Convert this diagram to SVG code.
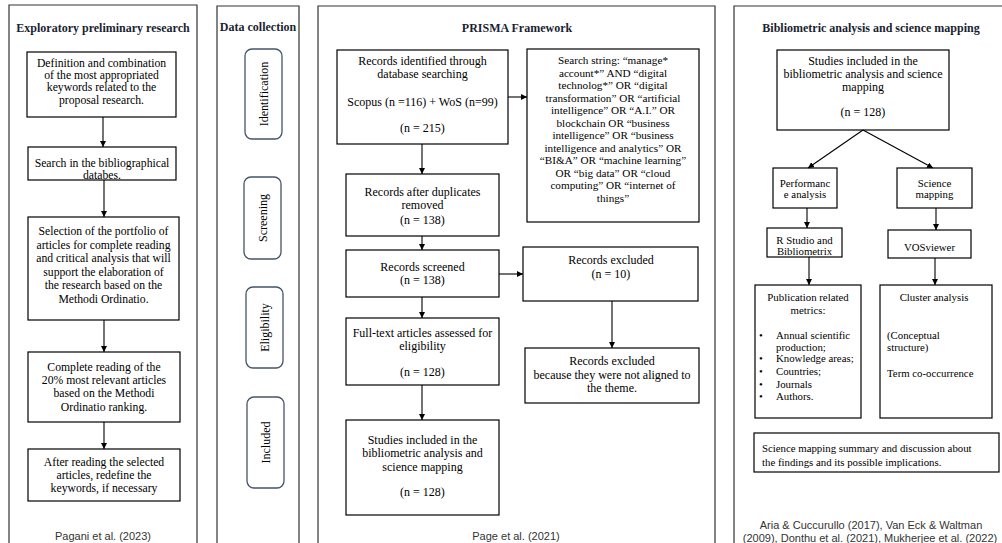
<svg xmlns="http://www.w3.org/2000/svg" width="1002" height="543" viewBox="0 0 1002 543">
<defs>
<marker id="ah" viewBox="0 0 10 10" refX="10" refY="5" markerWidth="6" markerHeight="6" markerUnits="userSpaceOnUse" orient="auto">
<path d="M0,0 L10,5 L0,10 z" fill="#000"/>
</marker>
<style>
.panel{fill:none;stroke:#333;stroke-width:1.2}
.box{fill:#fff;stroke:#000;stroke-width:1.2}
.rbox{fill:#fff;stroke:#44546a;stroke-width:1.3}
text{font-family:"Liberation Serif","Times New Roman",Tinos,"DejaVu Serif",serif;fill:#000}
.t{font-size:11.7px;text-anchor:middle}
.ts{font-size:12px;text-anchor:middle}
.tq{font-size:11.2px;text-anchor:middle}
.tm{font-size:10.8px;text-anchor:middle}
.tl{font-size:10.8px;text-anchor:start}
.h{font-size:12px;font-weight:bold;fill:#1a1f33;text-anchor:middle}
text.c{font-family:"Liberation Sans",Arial,sans-serif;font-size:11px;fill:#333;text-anchor:middle}
.conn line{stroke:#000;stroke-width:1.1;marker-end:url(#ah)}
</style>
</defs>
<rect width="1002" height="543" fill="#fff"/>

<!-- panels -->
<g id="panels">
<path class="panel" d="M9,545 V5 H197 V545"/>
<path class="panel" d="M217,545 V6 H299 V545"/>
<path class="panel" d="M318,545 V6 H715 V545"/>
<path class="panel" d="M734,545 V6 H1005"/>
<text class="h" x="103" y="32">Exploratory preliminary research</text>
<text class="h" x="258" y="31">Data collection</text>
<text class="h" x="517" y="32">PRISMA Framework</text>
<text class="h" x="871" y="32">Bibliometric analysis and science mapping</text>
<text class="c" x="103" y="540">Pagani et al. (2023)</text>
<text class="c" x="516" y="540">Page et al. (2021)</text>
<text class="c" x="871" y="529">Aria &amp; Cuccurullo (2017), Van Eck &amp; Waltman</text>
<text class="c" x="870" y="542">(2009),  Donthu et al. (2021), Mukherjee et al. (2022)</text>
</g>

<!-- panel 1 nodes -->
<g id="p1_define">
<rect class="box" x="27" y="52" width="149" height="65"/>
<text class="t" x="101.5" y="67">Definition and combination</text>
<text class="t" x="101.5" y="79">of the most appropriated</text>
<text class="t" x="101.5" y="91">keywords related to the</text>
<text class="t" x="101.5" y="104">proposal research.</text>
</g>
<g id="p1_search">
<rect class="box" x="28" y="147" width="148" height="33"/>
<text class="t" x="102" y="167">Search in the bibliographical</text>
<text class="t" x="102" y="179">databes.</text>
</g>
<g id="p1_select">
<rect class="box" x="28" y="217" width="151" height="103"/>
<text class="t" x="103.5" y="235">Selection of the portfolio of</text>
<text class="t" x="103.5" y="248.5">articles for complete reading</text>
<text class="t" x="103.5" y="262">and critical analysis that will</text>
<text class="t" x="103.5" y="275.5">support the elaboration of</text>
<text class="t" x="103.5" y="289">the research based on the</text>
<text class="t" x="103.5" y="302.5">Methodi Ordinatio.</text>
</g>
<g id="p1_read">
<rect class="box" x="28" y="352" width="152" height="70"/>
<text class="t" x="104" y="371">Complete reading of the</text>
<text class="t" x="104" y="384">20% most relevant articles</text>
<text class="t" x="104" y="397">based on the Methodi</text>
<text class="t" x="104" y="411">Ordinatio ranking.</text>
</g>
<g id="p1_redefine">
<rect class="box" x="28" y="449" width="152" height="52"/>
<text class="t" x="104" y="466">After reading the selected</text>
<text class="t" x="104" y="479">articles, redefine the</text>
<text class="t" x="104" y="492">keywords, if necessary</text>
</g>

<!-- panel 2 nodes -->
<g id="dc_identification">
<rect class="rbox" x="245" y="49" width="37" height="90" rx="7"/>
<text class="ts" transform="translate(267.5,94) rotate(-90)">Identification</text>
</g>
<g id="dc_screening">
<rect class="rbox" x="244" y="177" width="37" height="82" rx="7"/>
<text class="ts" transform="translate(266.5,218) rotate(-90)">Screening</text>
</g>
<g id="dc_eligibility">
<rect class="rbox" x="246" y="287" width="37" height="81" rx="7"/>
<text class="ts" transform="translate(268.5,327.5) rotate(-90)">Eligibility</text>
</g>
<g id="dc_included">
<rect class="rbox" x="247" y="397" width="37" height="91" rx="7"/>
<text class="ts" transform="translate(269.5,442.5) rotate(-90)">Included</text>
</g>

<!-- panel 3 nodes -->
<g id="pr_identified">
<rect class="box" x="337" y="50" width="171" height="94"/>
<text class="ts" x="422.5" y="65">Records identified through</text>
<text class="ts" x="422.5" y="78">database searching</text>
<text class="ts" x="422.5" y="106">Scopus (n =116) + WoS (n=99)</text>
<text class="ts" x="422.5" y="132">(n = 215)</text>
</g>
<g id="pr_string">
<rect class="box" x="527" y="49" width="172" height="173"/>
<text class="tq" x="613" y="64">Search string: “manage*</text>
<text class="tq" x="613" y="76.5">account*” AND “digital</text>
<text class="tq" x="613" y="89">technolog*” OR “digital</text>
<text class="tq" x="613" y="101.5">transformation” OR “artificial</text>
<text class="tq" x="613" y="114">intelligence” OR “A.I.” OR</text>
<text class="tq" x="613" y="126.5">blockchain OR “business</text>
<text class="tq" x="613" y="139">intelligence” OR “business</text>
<text class="tq" x="613" y="151.5">intelligence and analytics” OR</text>
<text class="tq" x="613" y="164">“BI&amp;A” OR “machine learning”</text>
<text class="tq" x="613" y="176.5">OR “big data” OR “cloud</text>
<text class="tq" x="613" y="189">computing” OR “internet of</text>
<text class="tq" x="613" y="201.5">things”</text>
</g>
<g id="pr_dedup">
<rect class="box" x="346" y="174" width="153" height="62"/>
<text class="ts" x="422.5" y="196">Records after duplicates</text>
<text class="ts" x="422.5" y="209">removed</text>
<text class="ts" x="422.5" y="224">(n = 138)</text>
</g>
<g id="pr_screened">
<rect class="box" x="346" y="250" width="153" height="47"/>
<text class="ts" x="422.5" y="271">Records screened</text>
<text class="ts" x="422.5" y="284">(n = 138)</text>
</g>
<g id="pr_excluded">
<rect class="box" x="523" y="247" width="175" height="54"/>
<text class="ts" x="611" y="264">Records excluded</text>
<text class="ts" x="611" y="278">(n = 10)</text>
</g>
<g id="pr_excluded2">
<rect class="box" x="525" y="348" width="174" height="55"/>
<text class="ts" x="612" y="365">Records excluded</text>
<text class="ts" x="612" y="379">because they were not aligned to</text>
<text class="ts" x="612" y="392">the theme.</text>
</g>
<g id="pr_fulltext">
<rect class="box" x="346" y="318" width="153" height="67"/>
<text class="ts" x="422.5" y="337">Full-text articles assessed for</text>
<text class="ts" x="422.5" y="350">eligibility</text>
<text class="ts" x="422.5" y="376">(n = 128)</text>
</g>
<g id="pr_included">
<rect class="box" x="346" y="420" width="153" height="95"/>
<text class="ts" x="422.5" y="444">Studies included in the</text>
<text class="ts" x="422.5" y="457">bibliometric analysis and</text>
<text class="ts" x="422.5" y="471">science mapping</text>
<text class="ts" x="422.5" y="496">(n = 128)</text>
</g>

<!-- panel 4 nodes -->
<g id="ba_studies">
<rect class="box" x="777" y="50" width="172" height="80"/>
<text class="ts" x="863" y="65">Studies included in the</text>
<text class="ts" x="863" y="78">bibliometric analysis and science</text>
<text class="ts" x="863" y="91">mapping</text>
<text class="ts" x="863" y="116">(n = 128)</text>
</g>
<g id="ba_performance">
<rect class="box" x="773" y="168" width="64" height="40"/>
<text class="tm" x="805" y="187">Performanc</text>
<text class="tm" x="805" y="198">e analysis</text>
</g>
<g id="ba_scimap">
<rect class="box" x="897" y="168" width="75" height="40"/>
<text class="tm" x="934.5" y="187">Science</text>
<text class="tm" x="934.5" y="198">mapping</text>
</g>
<g id="ba_rstudio">
<rect class="box" x="767" y="228" width="75" height="29"/>
<text class="tm" x="804.5" y="244">R Studio and</text>
<text class="tm" x="804.5" y="255">Bibliometrix</text>
</g>
<g id="ba_vos">
<rect class="box" x="888" y="230" width="83" height="28"/>
<text class="tm" x="929.5" y="251">VOSviewer</text>
</g>
<g id="ba_pub">
<rect class="box" x="755" y="285" width="106" height="133"/>
<text class="tm" x="808" y="301">Publication related</text>
<text class="tm" x="808" y="314">metrics:</text>
<text class="tl" x="759" y="339">•</text><text class="tl" x="776" y="339">Annual scientific</text>
<text class="tl" x="776" y="351">production;</text>
<text class="tl" x="759" y="362">•</text><text class="tl" x="776" y="362">Knowledge areas;</text>
<text class="tl" x="759" y="375">•</text><text class="tl" x="776" y="375">Countries;</text>
<text class="tl" x="759" y="388">•</text><text class="tl" x="776" y="388">Journals</text>
<text class="tl" x="759" y="400">•</text><text class="tl" x="776" y="400">Authors.</text>
</g>
<g id="ba_cluster">
<rect class="box" x="880" y="285" width="112" height="133"/>
<text class="tm" x="934" y="301">Cluster analysis</text>
<text class="tl" x="887" y="339">(Conceptual</text>
<text class="tl" x="887" y="351">structure)</text>
<text class="tl" x="887" y="377">Term co-occurrence</text>
</g>
<g id="ba_summary">
<rect class="box" x="754" y="433" width="245" height="39"/>
<text class="tl" x="762" y="452">Science mapping summary and discussion about</text>
<text class="tl" x="762" y="466">the findings and its possible implications.</text>
</g>

<!-- connectors -->
<g id="connectors" class="conn">
<line x1="103" y1="117" x2="103" y2="147"/>
<line x1="104" y1="180" x2="104" y2="217"/>
<line x1="104" y1="320" x2="104" y2="352"/>
<line x1="104" y1="422" x2="104" y2="449"/>
<line x1="508" y1="97" x2="527" y2="97"/>
<line x1="422" y1="144" x2="422" y2="174"/>
<line x1="422" y1="236" x2="422" y2="250"/>
<line x1="499" y1="274" x2="523" y2="274"/>
<line x1="612" y1="301" x2="612" y2="348"/>
<line x1="422" y1="297" x2="422" y2="318"/>
<line x1="422" y1="385" x2="422" y2="420"/>
<line x1="863" y1="130" x2="808" y2="168"/>
<line x1="863" y1="130" x2="933" y2="168"/>
<line x1="807" y1="208" x2="807" y2="228"/>
<line x1="936" y1="208" x2="936" y2="230"/>
<line x1="809" y1="257" x2="809" y2="285"/>
<line x1="935" y1="258" x2="935" y2="285"/>
</g>
</svg>
